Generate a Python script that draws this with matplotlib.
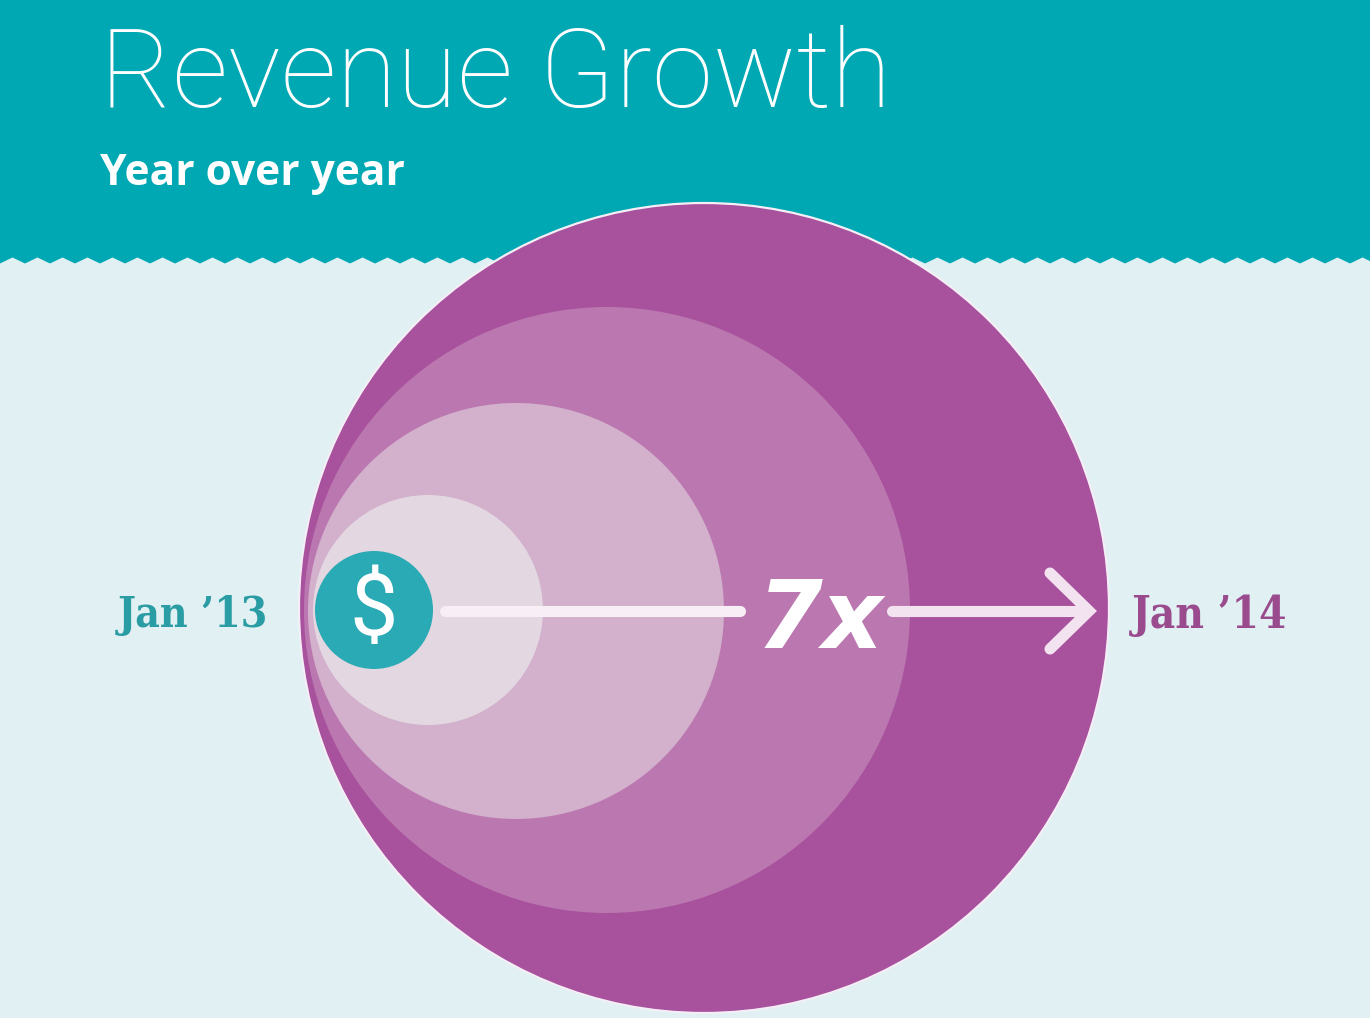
import numpy as np
import matplotlib
matplotlib.use("Agg")
import matplotlib.pyplot as plt
from matplotlib.patches import Circle, Polygon

# ---- data ----
title = "Revenue Growth"
subtitle = "Year over year"
start_label = "Jan \u201913"
end_label = "Jan \u201914"
growth_label = "7x"
# nested growth circles (radius in px, largest to smallest)
circle_radii = [405, 303, 208, 115]
circle_colors = ["#a8519c", "#bb77b0", "#d3b0cb", "#e3d7e1"]
circle_cx = [704, 607, 516, 428]
circle_cy = [608, 610, 611, 610]

W, H = 1370, 1018
fig = plt.figure(figsize=(W / 100, H / 100), dpi=100)
ax = fig.add_axes([0, 0, 1, 1])
ax.set_xlim(0, W)
ax.set_ylim(H, 0)
ax.axis("off")
fig.patch.set_facecolor("#e0f0f3")
ax.set_facecolor("#e0f0f3")

# header band with zigzag bottom
xs = np.arange(0, W + 13, 12.5)
ys = np.where((np.arange(len(xs)) % 2) == 0, 263.5, 257.5)
pts = [(0, 0)] + list(zip(xs, ys)) + [(xs[-1], 0)]
ax.add_patch(Polygon(pts, closed=True, facecolor="#00a8b4", edgecolor="none", zorder=1))

# circles
for i, (r, c, cx, cy) in enumerate(zip(circle_radii, circle_colors, circle_cx, circle_cy)):
    ec = "#f4eef6" if i == 0 else "none"
    lw = 1.6 if i == 0 else 0
    ax.add_patch(Circle((cx, cy), r, facecolor=c, edgecolor=ec, linewidth=lw, zorder=2 + i))

# dollar badge
ax.add_patch(Circle((374, 610), 59, facecolor="#29aab5", edgecolor="none", zorder=10))
ax.text(374, 611, "$", color="white", fontsize=62, family="Roboto", fontweight="normal",
        ha="center", va="center", zorder=11)

renderer = fig.canvas.get_renderer()


def fit_text(s, x0, x1, ybase, color, family, weight="normal", style="normal", z=12, base=40,
             stretch="normal"):
    t = ax.text(x0, ybase, s, color=color, fontsize=base, family=family, fontweight=weight,
                fontstyle=style, fontstretch=stretch, ha="left", va="baseline", zorder=z)
    bb = t.get_window_extent(renderer=renderer)
    t.set_fontsize(base * (x1 - x0) / bb.width)
    return t


# arrow
arrow_c = "#f8eef6"
ax.plot([445, 740], [611, 611], color=arrow_c, lw=8, solid_capstyle="round", zorder=12)
ax.plot([892, 1086], [611, 611], color="#f3e2ef", lw=8, solid_capstyle="round", zorder=12)
ax.plot([1050, 1089, 1050], [573, 611, 649], color="#f3e2ef", lw=8,
        solid_capstyle="round", solid_joinstyle="miter", zorder=12)

# texts
fit_text(title, 100, 892, 107, "white", "Roboto", weight=100, base=80)
fit_text(subtitle, 100, 405, 185, "white", "Open Sans", weight="bold", base=28)
fit_text(start_label, 118, 268, 627, "#2a9ca3", "DejaVu Serif", weight="bold", base=30,
         stretch="condensed")
fit_text(end_label, 1132, 1287, 628, "#9a4b8e", "DejaVu Serif", weight="bold", base=30,
         stretch="condensed")
fit_text(growth_label, 757, 884, 648, "white", "DejaVu Sans", weight="bold", style="italic", base=70)

fig.savefig("out.png", dpi=100, facecolor=fig.get_facecolor())
